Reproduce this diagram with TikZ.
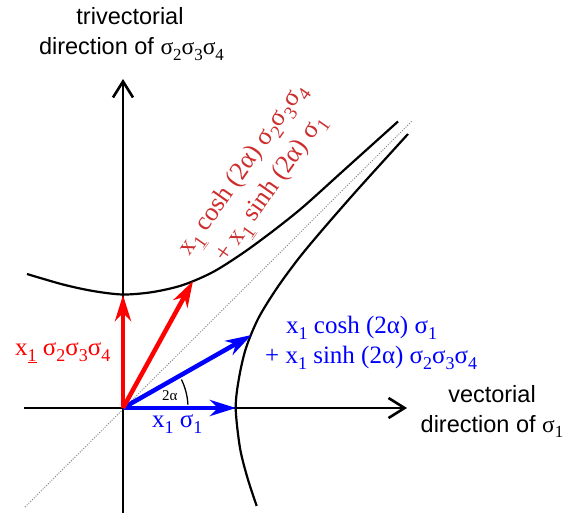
\documentclass[tikz,border=0pt]{standalone}
\usepackage{fontspec}
\setmainfont{Liberation Serif}
\newfontfamily\lsans{Liberation Sans}
\usetikzlibrary{arrows.meta}
\definecolor{vblue}{RGB}{0,0,255}
\definecolor{vred}{RGB}{255,0,0}
\definecolor{rotred}{RGB}{205,45,45}
\newcommand\lo[1]{\raisebox{-0.25em}{\scalebox{0.72}{#1}}}
\begin{document}
\begin{tikzpicture}[x=1pt,y=-1pt,
  axis/.style={line width=2.6pt, -{Straight Barb[length=16pt,width=20pt,line width=2.6pt]}},
  vec/.style={line width=4.5pt, -{Stealth[length=26pt,width=16pt,inset=8pt]}},
  curve/.style={line width=2.2pt},
  lab/.style={font=\lsans\fontsize{23.5}{29}\selectfont, inner sep=0pt},
  mlab/.style={font=\fontsize{25}{30}\selectfont, inner sep=0pt}]
\fill[white] (0,0) rectangle (578,513);
\useasboundingbox (0,0) rectangle (578,513);
% reference points
\coordinate (o) at (123,408);
\coordinate (xl) at (24,408);
\coordinate (xr) at (407,408);
\coordinate (yb) at (123,513);
\coordinate (yt) at (123,79);
\coordinate (dl) at (25,507);
\coordinate (du) at (412,121);
\coordinate (bh) at (236,408);
\coordinate (rv) at (123,295);
\coordinate (bt) at (251.5,335);
\coordinate (rt) at (193,281);
% asymptote
\draw[gray, line width=0.9pt, dash pattern=on 1pt off 1.5pt] (dl) -- (du);
% axes
\draw[axis] (xl) -- (xr);
\draw[axis] (yb) -- (yt);
% hyperbolas
\draw[curve] plot[smooth, tension=0.5] coordinates {(27,274) (63,284.5) (93,291) (123,294.5) (153,292) (183,285) (213,272) (243,253) (273,231) (303,207) (343,171) (398,121.5)};
\draw[curve] plot[smooth, tension=0.5] coordinates {(408,134) (359,188) (324,228) (299,258) (277,288) (258.5,318) (246,348) (239,378) (235.7,408) (240,448) (247.5,478) (256.7,506)};
% vectors
\draw[vec, vblue] (o) -- (bh);
\draw[vec, vblue] (o) -- (bt);
\draw[vec, vred] (o) -- (rv);
\draw[vec, vred] (o) -- (rt);
% angle
\draw[line width=1.3pt] (o) ++(3:65pt) arc[start angle=3, end angle=26, radius=65pt];
\node[font=\fontsize{15}{15}\selectfont, anchor=base west, inner sep=0pt] (ang) at (162,400) {2α};
% axis labels
\node[lab, anchor=base] (t1) at (130,25) {trivectorial};
\node[lab, anchor=base] (t2) at (131.5,55) {direction of {\rmfamily σ\lo{2}σ\lo{3}σ\lo{4}}};
\node[lab, anchor=base] (v1) at (492,402) {vectorial};
\node[lab, anchor=base] (v2) at (492,432) {direction of {\rmfamily σ\lo{1}}};
% blue labels
\node[mlab, vblue, anchor=base west] (b1) at (286,333) {x\lo{1} cosh (2α) σ\lo{1}};
\node[mlab, vblue, anchor=base west] (b2) at (265,363) {+ x\lo{1} sinh (2α) σ\lo{2}σ\lo{3}σ\lo{4}};
\node[mlab, vblue, anchor=base west] (b3) at (152,427) {x\lo{1} σ\lo{1}};
% red labels
\node[mlab, vred, anchor=base west] (r1) at (15,355) {x\lo{\underline{1}} σ\lo{2}σ\lo{3}σ\lo{4}};
\node[inner sep=0pt, font=\fontsize{26}{34}\selectfont, rotred, rotate=55, align=center] (r2) at (258,180) {x\lo{\underline{1}} cosh (2α) σ\lo{2}σ\lo{3}σ\lo{4}\\+ x\lo{\underline{1}} sinh (2α) σ\lo{1}};
\end{tikzpicture}
\end{document}
